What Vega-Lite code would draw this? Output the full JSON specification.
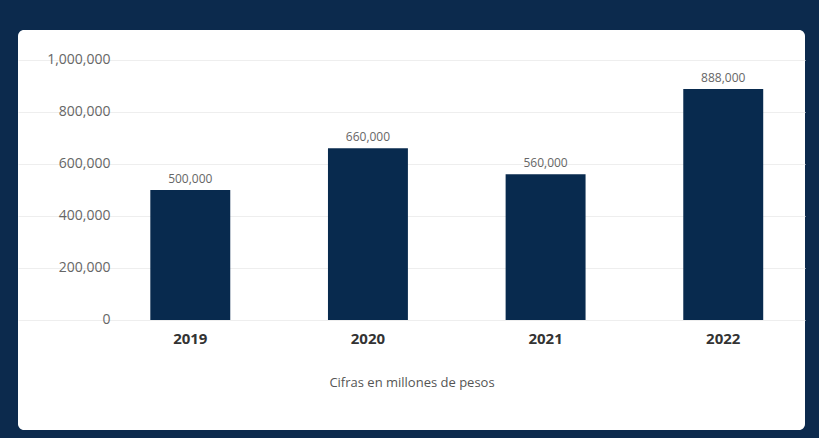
{
  "$schema": "https://vega.github.io/schema/vega-lite/v6.json",
  "width": 787,
  "height": 400,
  "autosize": {"type": "none"},
  "padding": {"left": 18, "top": 30, "right": 14, "bottom": 8},
  "background": "#0c2a4d",
  "config": {
    "view": {"fill": "#ffffff", "stroke": null, "cornerRadius": 6},
    "font": "Open Sans"
  },
  "data": {
    "values": [
      {"anio": "2019", "monto": 500000},
      {"anio": "2020", "monto": 660000},
      {"anio": "2021", "monto": 560000},
      {"anio": "2022", "monto": 888000}
    ]
  },
  "encoding": {
    "x": {
      "field": "anio",
      "type": "nominal",
      "sort": null,
      "scale": {"paddingInner": 0.55, "paddingOuter": 0.49, "align": 0.76},
      "axis": {
        "title": "Cifras en millones de pesos",
        "titleFontSize": 13,
        "titleFontWeight": "normal",
        "titleColor": "#555555",
        "titlePadding": 30,
        "labelAngle": 0,
        "labelFontSize": 15,
        "labelFontWeight": "bold",
        "labelColor": "#333333",
        "labelPadding": 9,
        "tickSize": 0,
        "domain": false,
        "offset": -108
      }
    },
    "y": {
      "field": "monto",
      "type": "quantitative",
      "scale": {"domain": [-423000, 1115000], "nice": false, "zero": false},
      "axis": {
        "title": null,
        "values": [0, 200000, 400000, 600000, 800000, 1000000],
        "format": ",.0f",
        "labelFontSize": 14,
        "labelColor": "#666666",
        "labelPadding": 2,
        "tickSize": 0,
        "domain": false,
        "grid": true,
        "gridColor": "#eeeeee",
        "offset": -94
      }
    }
  },
  "layer": [
    {
      "mark": {"type": "bar", "color": "#082a4e"},
      "encoding": {"y2": {"datum": 0}}
    },
    {
      "mark": {"type": "text", "dy": -11, "fontSize": 12, "color": "#666666"},
      "encoding": {"text": {"field": "monto", "type": "quantitative", "format": ",.0f"}}
    }
  ]
}
